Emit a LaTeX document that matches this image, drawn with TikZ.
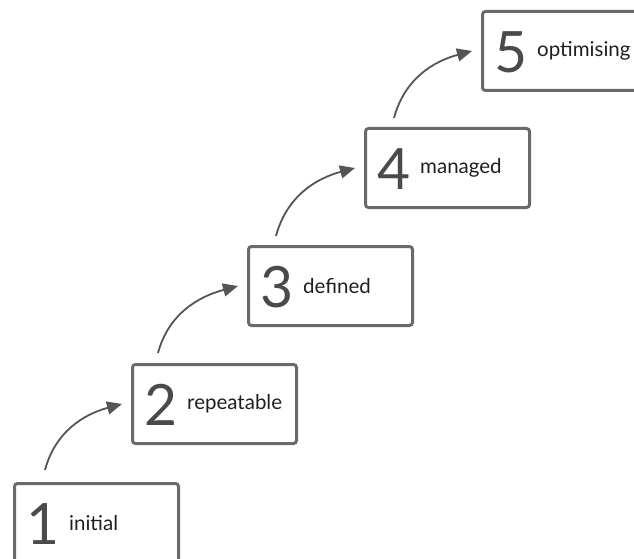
\documentclass[tikz,border=0pt]{standalone}
\usepackage{fontspec}
\setmainfont{Lato}
\newfontfamily\digfont{Lato}
\usetikzlibrary{arrows.meta}
\definecolor{boxc}{HTML}{6A6A6A}
\definecolor{arrc}{HTML}{555555}
\definecolor{digc}{HTML}{4A4A4A}
\begin{document}
\begin{tikzpicture}[x=1pt,y=1pt,
  stage/.style={draw=boxc, line width=3pt, rounded corners=3pt, minimum width=164pt, minimum height=79pt, anchor=north west, inner sep=0pt},
  dig/.style={anchor=center, font=\digfont\fontsize{57}{57}\selectfont, text=digc, inner sep=0pt},
  lab/.style={anchor=west, font=\fontsize{20.5}{20.5}\selectfont, text=black!88, inner sep=0pt},
  arr/.style={draw=arrc, line width=1.8pt, -{Triangle[length=15pt,width=13pt]}}]
\useasboundingbox (0,0) rectangle (634,-559);
\clip (0,0) rectangle (634,-559);
\node[stage] (b1) at (13,-482) {};
\node[stage] (b2) at (131,-363) {};
\node[stage] (b3) at (247,-245) {};
\node[stage] (b4) at (364,-127) {};
\node[stage] (b5) at (481,-10) {};
\foreach \i/\t in {1/initial,2/repeatable,3/defined,4/managed,5/optimising}{
  \node[dig] (d\i) at ([xshift=30pt,yshift=-1pt]b\i.west) {\i};
  \node[lab] (l\i) at ([xshift=56pt,yshift=0pt]b\i.west) {\t};
}
\draw[arr] ([xshift=32pt,yshift=12pt]b1.north west) to[out=75,in=195] ([xshift=-9pt]b2.west);
\draw[arr] ([xshift=27pt,yshift=10pt]b2.north west) to[out=75,in=195] ([xshift=-9pt]b3.west);
\draw[arr] ([xshift=29pt,yshift=9pt]b3.north west) to[out=75,in=195] ([xshift=-9pt]b4.west);
\draw[arr] ([xshift=30pt,yshift=9pt]b4.north west) to[out=75,in=195] ([xshift=-9pt]b5.west);
\end{tikzpicture}
\end{document}
